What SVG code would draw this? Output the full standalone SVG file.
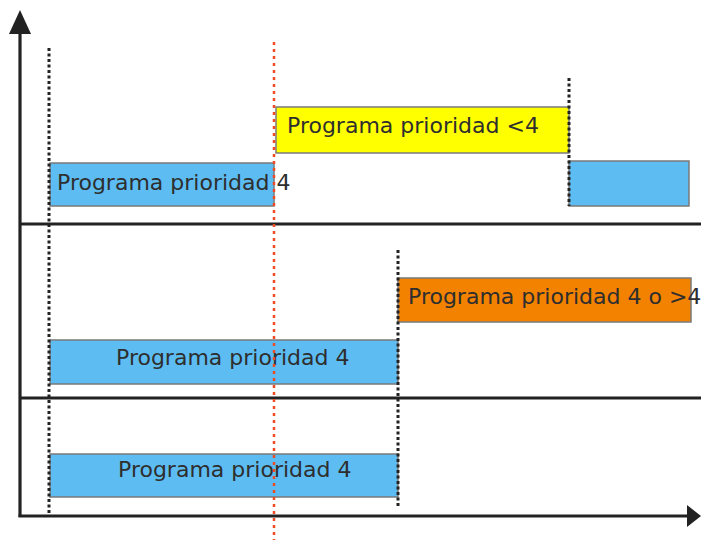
<svg xmlns="http://www.w3.org/2000/svg" width="701" height="540" viewBox="0 0 701 540">
<defs>
<style>
.box{stroke:#7a7a7a;stroke-width:1.5}
.blue{fill:#5dbdf2}
.yellow{fill:#ffff00}
.orange{fill:#f38200}
.lbl{font-family:"DejaVu Sans",Verdana,sans-serif;font-size:22px;fill:#2e2e2e}
.axis{stroke:#222;stroke-width:3.2;fill:none}
.dot{stroke:#222;stroke-width:3;stroke-dasharray:3 2.5;fill:none}
.red{stroke:#ee4a24;stroke-width:2.5;stroke-dasharray:3 4;fill:none}
</style>
</defs>
<rect width="701" height="540" fill="#fff"/>
<g id="connectors">
<line class="axis" x1="20" y1="30" x2="20" y2="517"/>
<polygon points="20,10 9,34 31,34" fill="#222"/>
<line class="axis" x1="18.5" y1="516" x2="690" y2="516"/>
<polygon points="701,516 687,505 687,527" fill="#222"/>
<line class="axis" x1="20" y1="224" x2="701" y2="224"/>
<line class="axis" x1="20" y1="398" x2="701" y2="398"/>
</g>
<g id="n1">
<rect class="box blue" x="50" y="163" width="224" height="43"/>
<text class="lbl" x="57" y="190">Programa prioridad 4</text>
</g>
<g id="n2">
<rect class="box yellow" x="276" y="107" width="293" height="46"/>
<text class="lbl" x="287" y="133">Programa prioridad &lt;4</text>
</g>
<g id="n3">
<rect class="box blue" x="569" y="161" width="120" height="45"/>
</g>
<g id="n4">
<rect class="box orange" x="398" y="278" width="293" height="44"/>
<text class="lbl" x="408" y="304">Programa prioridad 4 o &gt;4</text>
</g>
<g id="n5">
<rect class="box blue" x="50" y="340" width="348" height="44"/>
<text class="lbl" x="116" y="365">Programa prioridad 4</text>
</g>
<g id="n6">
<rect class="box blue" x="50" y="454" width="348" height="43"/>
<text class="lbl" x="118" y="477">Programa prioridad 4</text>
</g>
<g id="markers">
<line class="dot" x1="49" y1="48" x2="49" y2="514"/>
<line class="dot" x1="398" y1="250" x2="398" y2="508"/>
<line class="dot" x1="569" y1="78" x2="569" y2="206"/>
<line class="red" x1="274" y1="42" x2="274" y2="540"/>
</g>
</svg>
